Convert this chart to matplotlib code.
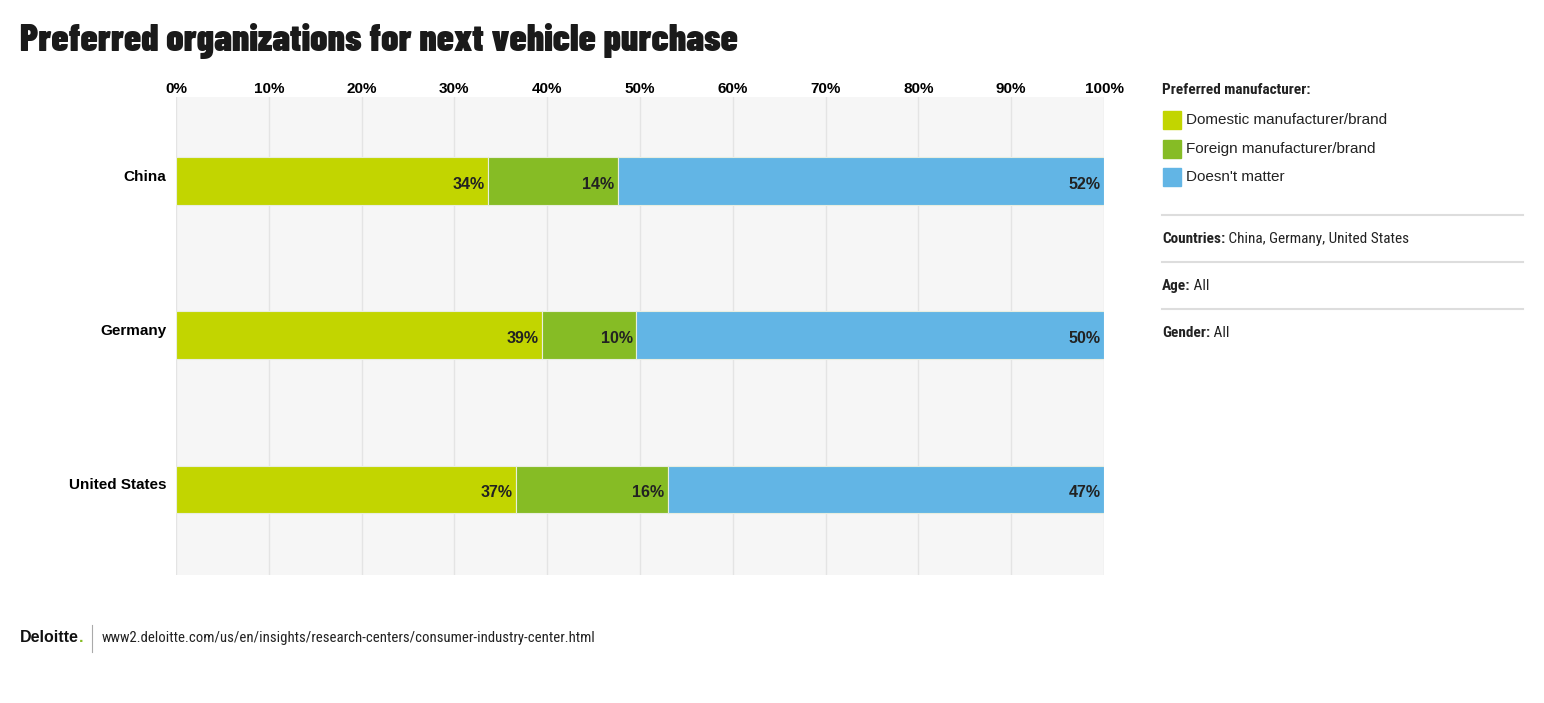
import matplotlib
matplotlib.use("Agg")
import matplotlib.pyplot as plt
import numpy as np

countries = ["China", "Germany", "United States"]
series_names = ["Domestic manufacturer/brand", "Foreign manufacturer/brand", "Doesn't matter"]
domestic = [33.6, 39.4, 36.6]
foreign = [14.0, 10.2, 16.4]
doesnt_matter = [52.4, 50.4, 47.0]
x_ticks = [0, 10, 20, 30, 40, 50, 60, 70, 80, 90, 100]
x_tick_labels = [f"{t}%" for t in x_ticks]

colors = ["#c2d500", "#86bc25", "#62b5e5"]

heavy = "Barlow Condensed"
narrow = "Roboto Condensed"
plain = "Liberation Sans"

fig = plt.figure(figsize=(15.44, 7.03), dpi=100)
ax = fig.add_axes([176 / 1544, 1 - 575 / 703, 928 / 1544, 478 / 703])
ax.set_facecolor("#f6f6f6")

y = np.arange(len(countries))
left = np.zeros(len(countries))
for vals, col in zip([domestic, foreign, doesnt_matter], colors):
    vals = np.array(vals)
    ax.barh(y, vals, left=left, height=0.31, color=col, edgecolor="#e8eee0", linewidth=0.8, zorder=3)
    for yi, l, v in zip(y, left, vals):
        ax.text(l + v - 0.35, yi + 0.02, f"{v:.0f}%", ha="right", va="center",
                fontsize=11.5, fontweight="bold", family=plain, color="#222222", zorder=4)
    left = left + vals

ax.set_xlim(0, 100)
ax.set_ylim(2.555, -0.545)
ax.set_xticks(x_ticks)
ax.set_xticklabels(x_tick_labels, fontsize=11, fontweight="bold", family=plain)
ax.xaxis.tick_top()
ax.tick_params(axis="x", length=0, pad=1)
ax.set_yticks(y)
ax.set_yticklabels(countries, fontsize=11, fontweight="bold", family=plain)
ax.tick_params(axis="y", length=0, pad=7)
for lbl in ax.get_yticklabels():
    lbl.set_va("baseline")
ax.grid(axis="x", color="#e4e4e4", linewidth=1, zorder=0)
for s in ax.spines.values():
    s.set_visible(False)

W, H = 1544, 703
def fx(px):
    return px / W
def fy(py):
    return 1 - py / H

fig.text(fx(20), fy(41), "Preferred organizations for next vehicle purchase", fontsize=27.3,
         fontweight=900, family=heavy, color="#1a1a1a", va="center")

# side panel
fig.text(fx(1162), fy(90), "Preferred manufacturer:", fontsize=11, fontweight="bold",
         family=narrow, color="#222222", va="center")
for i, (name, col) in enumerate(zip(series_names, colors)):
    yy = 120 + i * 28.5
    fig.patches.append(plt.Rectangle((fx(1163), fy(yy + 9)), 18 / W, 18 / H, color=col,
                                     transform=fig.transFigure, figure=fig))
    fig.text(fx(1186), fy(yy), name, fontsize=11, family=plain, color="#222222", va="center")

for py in [215, 262, 309]:
    fig.add_artist(plt.Line2D([fx(1162), fx(1523)], [fy(py), fy(py)], color="#dddddd",
                              linewidth=1.5, transform=fig.transFigure))

fig.canvas.draw()
renderer = fig.canvas.get_renderer()
for py, bold, rest in [(239, "Countries:", " China, Germany, United States"),
                       (286, "Age:", " All"), (333, "Gender:", " All")]:
    t = fig.text(fx(1162), fy(py), bold, fontsize=11, fontweight="bold", family=narrow,
                 color="#222222", va="center")
    bb = t.get_window_extent(renderer)
    fig.text(bb.x1 / W, fy(py), rest, fontsize=11, family=narrow, color="#222222", va="center")

# footer
t = fig.text(fx(20), fy(638), "Deloitte", fontsize=11.5, fontweight="bold", family=plain,
             color="#111111", va="center")
bb = t.get_window_extent(renderer)
fig.text(bb.x1 / W, fy(638), ".", fontsize=11.5, fontweight="bold", family=plain,
         color="#86bc25", va="center")
fig.add_artist(plt.Line2D([fx(92), fx(92)], [fy(625), fy(652)], color="#aaaaaa",
                          linewidth=0.8, transform=fig.transFigure))
fig.text(fx(102), fy(638), "www2.deloitte.com/us/en/insights/research-centers/consumer-industry-center.html",
         fontsize=10.6, family=narrow, color="#222222", va="center")

fig.savefig("out.png", dpi=100)
